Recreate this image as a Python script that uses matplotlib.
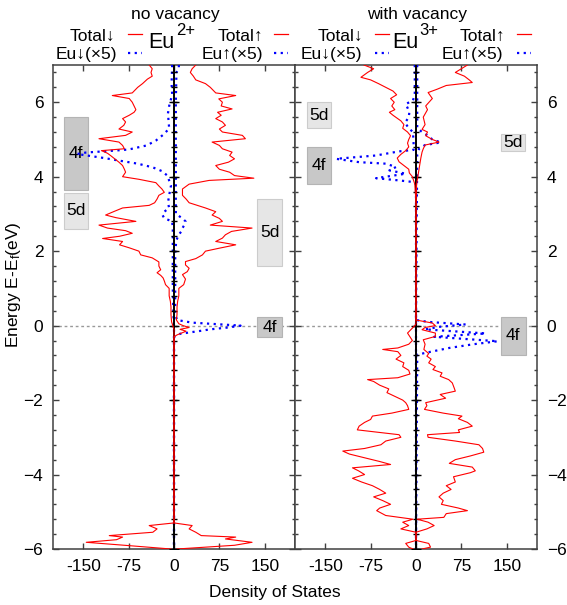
import matplotlib
matplotlib.use("Agg")
import matplotlib.pyplot as plt
from matplotlib.patches import Rectangle
from matplotlib.lines import Line2D
from matplotlib.ticker import MultipleLocator

plt.rcParams['font.family'] = ['Liberation Sans', 'DejaVu Sans']
plt.rcParams['mathtext.fontset'] = 'custom'
plt.rcParams['mathtext.rm'] = 'Liberation Sans'
plt.rcParams['mathtext.it'] = 'Liberation Sans:italic'
plt.rcParams['font.size'] = 12.5

# ---- no vacancy (Eu2+) ----
nv_dn_E = [7.0, 6.9, 6.8, 6.7, 6.62, 6.5, 6.4, 6.3, 6.25, 6.18, 6.1, 6.0, 5.9, 5.8, 5.73, 5.65,
           5.56, 5.47, 5.38, 5.28, 5.2, 5.11, 5.02, 4.93, 4.84, 4.75, 4.7, 4.63, 4.57, 4.48, 4.39,
           4.3, 4.2, 4.12, 4.0, 3.93, 3.84, 3.75, 3.67, 3.58, 3.5, 3.4, 3.3, 3.23, 3.16, 3.06, 2.97,
           2.9, 2.8, 2.7, 2.62, 2.55, 2.48, 2.4, 2.34, 2.26, 2.17, 2.09, 2.0, 1.9, 1.82, 1.71, 1.6,
           1.5, 1.42, 1.35, 1.28, 1.2, 1.1, 1.0, 0.8, 0.65, 0.5, 0.3, 0.1, 0.0, -0.1, -0.3, -5.3,
           -5.37, -5.46, -5.55, -5.64, -5.68, -5.75, -5.82, -5.91, -6.0]
nv_dn = [-41, -36, -38, -36, -44, -52, -60, -66, -69, -102, -74, -69, -66, -63, -66, -74,
         -85, -80, -83, -91, -69, -80, -124, -91, -85, -82, -120, -110, -105, -98, -91,
         -85, -82, -80, -85, -58, -30, -25, -20, -16, -25, -28, -32, -41, -85, -100, -113,
         -96, -63, -124, -110, -80, -69, -90, -118, -85, -90, -74, -58, -55, -36, -25, -25,
         -22, -28, -22, -18, -16, -14, -8, -8, -6, -5, -5, -4, -2, 0, 0, 0,
         -41, -28, -35, -107, -85, -95, -145, -74, -5]

nv_up_E = [7.0, 6.9, 6.8, 6.7, 6.6, 6.5, 6.4, 6.3, 6.25, 6.18, 6.09, 6.0, 5.9, 5.82, 5.73, 5.65,
           5.56, 5.47, 5.38, 5.28, 5.2, 5.11, 5.02, 4.93, 4.84, 4.75, 4.66, 4.57, 4.48, 4.39, 4.3,
           4.2, 4.12, 4.03, 3.96, 3.9, 3.8, 3.67, 3.5, 3.4, 3.3, 3.16, 3.06, 2.97, 2.88, 2.8, 2.7,
           2.62, 2.53, 2.44, 2.35, 2.26, 2.17, 2.08, 2.0, 1.9, 1.8, 1.72, 1.63, 1.54, 1.45, 1.37,
           1.25, 1.1, 1.0, 0.8, 0.65, 0.5, 0.3, 0.15, 0.05, 0.0, -0.05, -0.1, -0.15, -0.25, -0.3,
           -5.3, -5.37, -5.46, -5.55, -5.64, -5.68, -5.73, -5.82, -5.9, -6.0]
nv_up = [36, 30, 27, 32, 36, 52, 60, 66, 69, 102, 74, 80, 78, 96, 72, 78,
         69, 80, 85, 75, 80, 113, 118, 63, 75, 80, 96, 92, 100, 90, 69,
         75, 92, 100, 132, 58, 25, 14, 14, 20, 25, 52, 69, 63, 75, 80, 60,
         129, 95, 85, 80, 69, 102, 75, 52, 47, 36, 19, 19, 25, 22, 14,
         19, 16, 8, 8, 6, 5, 5, 4, 8, 15, 25, 10, 20, 5, 0,
         0, 30, 25, 36, 45, 102, 85, 129, 100, 5]

nv_eu_dn_E = [7.0, 6.5, 6.2, 5.9, 5.7, 5.3, 5.15, 4.97, 4.84, 4.73, 4.69, 4.65, 4.61, 4.56,
              4.5, 4.43, 4.35, 4.25, 4.15, 4.03, 3.76, 3.5, 3.3, 3.16, 3.06, 2.97, 2.88, 2.8,
              2.6, 2.0, 1.0, 0.3, 0.0, -6.0]
nv_eu_dn = [-3, -4, -3, -8, -10, -8, -16, -30, -45, -75, -107, -145, -160, -140,
            -115, -90, -60, -35, -20, -11, -5, -8, -10, -8, -16, -19, -16, -3,
            -2, -2, -2, -1, 0, 0]

nv_eu_up_E = [7.0, 6.9, 6.8, 6.0, 3.0, 2.88, 2.8, 2.7, 2.62, 2.53, 2.44, 2.3, 2.0, 0.3, 0.15,
              0.08, 0.03, 0.0, -0.05, -0.1, -0.15, -0.22, -0.3, -6.0]
nv_eu_up = [8, 8, 4, 3, 3, 14, 19, 17, 14, 12, 8, 4, 2, 2, 5,
            30, 80, 110, 90, 60, 40, 10, 0, 0]

# ---- with vacancy (Eu3+) ----
wv_dn_E = [7.0, 6.9, 6.8, 6.67, 6.6, 6.5, 6.4, 6.3, 6.2, 6.1, 6.0, 5.9, 5.8, 5.73, 5.65, 5.5,
           5.4, 5.3, 5.2, 5.1, 5.0, 4.9, 4.8, 4.7, 4.6, 4.5, 4.4, 4.3, 4.2, 4.1, 4.0, 3.9, 3.8,
           3.3, 0.05, 0.0, -0.1, -0.2, -0.3, -0.4, -0.5, -0.6, -0.64, -0.7, -0.8, -0.9, -1.0,
           -1.1, -1.2, -1.3, -1.4, -1.45, -1.5, -1.6, -1.7, -1.8, -1.9, -2.0, -2.07, -2.15, -2.25,
           -2.35, -2.43, -2.52, -2.6, -2.7, -2.8, -2.87, -2.93, -3.0, -3.1, -3.2, -3.3, -3.37,
           -3.45, -3.55, -3.65, -3.73, -3.82, -3.9, -4.0, -4.1, -4.2, -4.3, -4.4, -4.5, -4.6,
           -4.7, -4.8, -4.9, -4.97, -5.1, -5.2, -5.28, -5.37, -5.46, -5.55, -5.77, -5.85, -5.95,
           -6.0]
wv_dn = [-86, -70, -80, -91, -75, -62, -50, -38, -32, -42, -36, -40, -35, -44, -38, -25,
         -20, -22, -14, -9, -12, -14, -12, -17, -25, -31, -28, -20, -12, -11, -6, -4, -2,
         0, 0, -2, -8, -14, -10, -6, -12, -30, -55, -30, -25, -33, -20,
         -22, -12, -10, -30, -80, -70, -60, -45, -48, -35, -22, -17, -14, -12,
         -40, -72, -75, -85, -94, -97, -60, -28, -25, -50, -58, -85, -121,
         -110, -85, -60, -42, -105, -95, -85, -105, -90, -72, -60, -50, -70,
         -55, -42, -60, -65, -50, -5, -22, -12, -25, 0, 0, -17, -12,
         -5]

wv_up_E = [7.0, 6.9, 6.8, 6.7, 6.6, 6.53, 6.45, 6.35, 6.26, 6.1, 5.9, 5.8, 5.6, 5.4, 5.27, 5.2,
           5.1, 5.0, 4.93, 4.85, 4.75, 4.66, 4.5, 4.3, 4.1, 3.9, 3.8, 3.3, 0.15, 0.07, 0.0,
           -0.05, -0.11, -0.2, -0.29, -0.38, -0.5, -0.64, -0.75, -0.82, -0.9, -1.0, -1.1, -1.18,
           -1.27, -1.36, -1.45, -1.54, -1.67, -1.76, -1.85, -1.95, -2.07, -2.15, -2.25, -2.35,
           -2.43, -2.5, -2.6, -2.7, -2.8, -2.87, -2.93, -3.0, -3.1, -3.2, -3.3, -3.4, -3.5, -3.6,
           -3.7, -3.8, -3.9, -3.95, -4.06, -4.2, -4.3, -4.4, -4.5, -4.6, -4.7, -4.8, -4.9, -4.97,
           -5.05, -5.15, -5.2, -5.28, -5.37, -5.46, -5.55, -5.77, -5.85, -5.95, -6.0]
wv_up = [85, 75, 65, 80, 88, 93, 50, 35, 20, 27, 16, 19, 12, 15, 10, 19,
         16, 27, 38, 15, 12, 10, 8, 6, 4, 2, 1, 0, 0, 27, 32,
         15, 10, 32, 32, 12, 15, 13, 21, 18, 25, 21, 32, 28,
         43, 40, 54, 60, 63, 65, 40, 49, 16, 18, 14, 45,
         76, 70, 85, 93, 70, 72, 19, 20, 65, 104, 110, 112, 90, 65,
         55, 93, 98, 90, 62, 65, 50, 58, 45, 38, 45, 42, 70, 85,
         50, 46, 2, 20, 30, 18, 0, 0, 21, 24, 10]

wv_eu_dn_E = [7.0, 6.2, 6.05, 5.95, 5.85, 5.73, 5.6, 5.45, 5.3, 5.2, 4.9, 4.72, 4.68, 4.57,
              4.48, 4.39, 4.35, 4.26, 4.17, 4.08, 3.96, 3.9, 3.86, 3.8, -6.0]
wv_eu_dn = [-2, -2, -5, -17, -14, -11, -12, -18, -12, -5, -4, -4, -28, -66,
            -132, -94, -50, -33, -44, -17, -66, -28, -6, 0, 0]

wv_eu_up_E = [7.0, 5.3, 5.2, 5.1, 5.0, 4.92, 4.85, 4.75, 4.6, 0.15, 0.1, 0.03, -0.03, -0.1,
              -0.21, -0.3, -0.42, -0.5, -0.6, -0.7, -0.78, -6.0]
wv_eu_up = [2, 2, 10, 20, 27, 41, 15, 5, 2, 0, 20, 82, 40, 15,
            115, 30, 135, 95, 55, 25, 2, 0]

DARK = '#c8c8c8'
LIGHT = '#e6e6e6'
# label, x0, x1, y0, y1, colour
nv_boxes = [("4f", -181, -142, 3.64, 5.59, DARK), ("5d", -181, -142, 2.6, 3.56, LIGHT),
            ("5d", 138, 178, 1.6, 3.4, LIGHT), ("4f", 138, 178, -0.3, 0.22, DARK)]
wv_boxes = [("5d", -180, -140, 5.3, 6.0, LIGHT), ("4f", -180, -140, 3.8, 4.79, DARK),
            ("5d", 140, 180, 4.69, 5.14, LIGHT), ("4f", 140, 181, -0.78, 0.24, DARK)]

xticks = [-150, -75, 0, 75, 150]
yticks = [-6, -4, -2, 0, 2, 4, 6]
minor_y = [round(-6 + 0.4 * i, 1) for i in range(33)]

W, H = 567, 605
fig = plt.figure(figsize=(W / 100, H / 100), dpi=100)


def fx(px):
    return px / W


def fy(py):
    return 1 - py / H


ax1 = fig.add_axes([fx(53), fy(549), fx(295) - fx(53), fy(65) - fy(549)])
ax2 = fig.add_axes([fx(295), fy(549), fx(537) - fx(295), fy(65) - fy(549)])

SPINE = '#404040'


def panel(ax, dnE, dn, upE, up, edE, ed, euE, eu, boxes):
    ax.axhline(0, color='#999999', lw=1, ls=(0, (2, 2)), zorder=1)
    for lab, x0, x1, y0, y1, col in boxes:
        ec = '#b4b4b4' if col == DARK else '#cccccc'
        ax.add_patch(Rectangle((x0, y0), x1 - x0, y1 - y0, fc=col, ec=ec, lw=0.8, zorder=2))
        ax.text((x0 + x1) / 2, (y0 + y1) / 2, lab, ha='center', va='center',
                fontsize=12.5, zorder=3)
    ax.plot(ed, edE, color='blue', lw=1.6, ls=(0, (1, 2)), zorder=4)
    ax.plot(eu, euE, color='blue', lw=1.6, ls=(0, (1, 2)), zorder=4)
    ax.axvline(0, color='black', lw=1.4, zorder=5)
    major = [y for y in minor_y if y in yticks]
    ax.plot([0] * len(minor_y), minor_y, ls='none', marker='_', ms=4.5, mew=1,
            color='black', zorder=5)
    ax.plot([0] * len(major), major, ls='none', marker='_', ms=7, mew=1,
            color='black', zorder=5)
    ax.plot(dn, dnE, color='red', lw=0.8, zorder=6)
    ax.plot(up, upE, color='red', lw=0.8, zorder=6)
    ax.set_xlim(-200, 200)
    ax.set_ylim(-6, 7)
    ax.set_xticks(xticks)
    ax.set_xticklabels([str(t) for t in xticks])
    ax.set_yticks(yticks)
    ax.yaxis.set_minor_locator(MultipleLocator(0.4))
    ax.tick_params(which='both', direction='in', top=True, right=True, color=SPINE)
    ax.tick_params(which='major', length=4.5, width=1, labelsize=12.5, pad=7)
    ax.tick_params(which='minor', length=2.5, width=1)
    for s in ax.spines.values():
        s.set_color(SPINE)
        s.set_linewidth(1.1)


panel(ax1, nv_dn_E, nv_dn, nv_up_E, nv_up, nv_eu_dn_E, nv_eu_dn, nv_eu_up_E, nv_eu_up, nv_boxes)
panel(ax2, wv_dn_E, wv_dn, wv_up_E, wv_up, wv_eu_dn_E, wv_eu_dn, wv_eu_up_E, wv_eu_up, wv_boxes)
ax1.tick_params(labelleft=True, labelright=False)
ax2.tick_params(labelleft=False, labelright=True)

# headers
fig.text(fx(175), fy(19), "no vacancy", ha='center', va='baseline', fontsize=12.5)
fig.text(fx(417), fy(19), "with vacancy", ha='center', va='baseline', fontsize=12.5)
# ion labels: "Eu" plus a separately placed superscript
for base_x, charge in [(175, "2+"), (418, "3+")]:
    fig.text(fx(base_x), fy(48), "Eu", ha='right', va='baseline', fontsize=15.5)
    fig.text(fx(base_x + 1), fy(35), charge, ha='left', va='baseline', fontsize=12)

legend_items = [
    ("Total\u2193", 115, 41, 128, 142, 34, 'red', '-'),
    ("Eu\u2193(\u00d75)", 117, 59, 128, 142, 53, 'blue', ':'),
    ("Total\u2191", 263, 41, 274, 288, 34, 'red', '-'),
    ("Eu\u2191(\u00d75)", 263, 59, 274, 288, 53, 'blue', ':'),
    ("Total\u2193", 363, 41, 375, 389, 34, 'red', '-'),
    ("Eu\u2193(\u00d75)", 362, 59, 375, 389, 53, 'blue', ':'),
    ("Total\u2191", 505, 41, 517, 531, 34, 'red', '-'),
    ("Eu\u2191(\u00d75)", 503, 59, 517, 531, 53, 'blue', ':'),
]
for txt, tx, ty, lx0, lx1, ly, col, st in legend_items:
    fig.text(fx(tx), fy(ty), txt, ha='right', va='baseline', fontsize=12.5)
    if st == '-':
        fig.add_artist(Line2D([fx(lx0), fx(lx1)], [fy(ly), fy(ly)], color=col, lw=0.9))
    else:
        fig.add_artist(Line2D([fx(lx0), fx(lx1)], [fy(ly), fy(ly)], color=col, lw=1.6,
                              ls=(0, (1, 2))))

fig.text(fx(275), fy(593), "Density of States", ha='center', va='center', fontsize=12.5)
fig.text(fx(14), fy(285), r"Energy E-E$_\mathregular{f}$(eV)", ha='center', va='center',
         rotation=90, fontsize=12.5)

fig.savefig("out.png", dpi=100)
